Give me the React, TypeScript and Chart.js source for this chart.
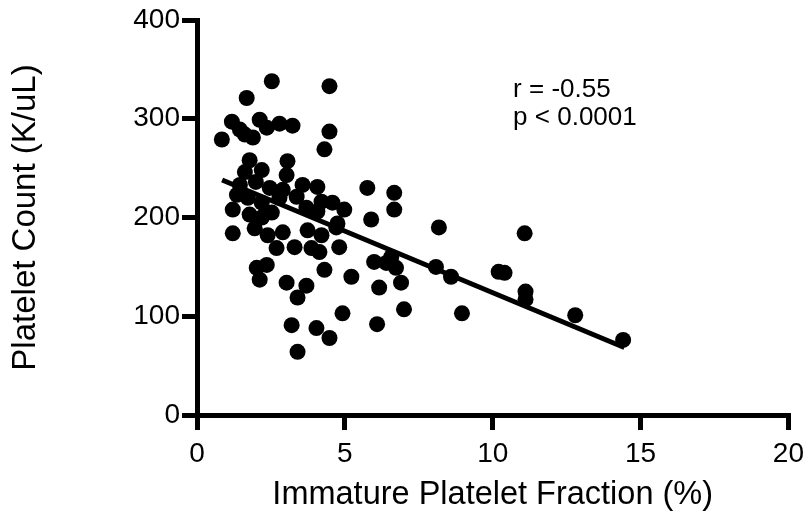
import React, { useEffect, useRef } from "react";
import { Chart, registerables } from "chart.js";

Chart.register(...registerables);

// Immature Platelet Fraction (%)
const ipfValues: number[] = [
  0.84, 1.18, 1.45, 1.89, 2.12, 2.36, 2.79, 3.23, 1.68, 2.53, 4.48, 4.48, 4.31,
  1.78, 3.06, 1.62, 2.19, 1.45, 1.99, 2.46, 3.03, 2.9, 1.72, 2.19, 1.35, 1.21,
  1.78, 2.19, 2.53, 2.79, 3.37, 3.57, 4.07, 4.21, 4.58, 4.98, 3.7, 4.07, 4.75,
  4.81, 5.76, 6.67, 6.67, 5.89, 8.18, 11.08, 1.21, 1.95, 2.39, 2.9, 3.74, 4.21,
  4.71, 2.69, 3.3, 3.87, 4.14, 5.99, 6.4, 6.73, 6.57, 2.02, 2.36, 2.12, 4.31,
  5.22, 3.03, 3.7, 3.4, 6.16, 6.9, 8.08, 8.59, 10.2, 10.4, 11.11, 11.11, 4.92,
  7.0, 8.96, 12.79, 14.41, 3.2, 4.04, 4.48, 3.4, 6.09, 1.62,
];

// Platelet Count (K/uL)
const plateletValues: number[] = [
  279, 297, 289, 281, 299, 291, 295, 293, 321, 338, 333, 287, 269,
  258, 257, 246, 248, 233, 236, 230, 243, 228, 220, 215, 223, 208,
  203, 200, 205, 220, 221, 233, 231, 216, 215, 208, 210, 206, 194,
  170, 230, 225, 208, 198, 190, 184, 184, 189, 182, 185, 187, 182,
  190, 169, 170, 169, 165, 155, 154, 149, 160, 149, 152, 137, 147,
  140, 134, 131, 119, 129, 134, 150, 140, 145, 144, 125, 117, 103,
  107, 103, 101, 76, 91, 88, 78, 64, 92, 284,
];

// Linear regression line endpoints
const fitX: number[] = [0.85, 14.45];
const fitY: number[] = [238, 68.4];

const xTicks: number[] = [0, 5, 10, 15, 20];
const yTicks: number[] = [0, 100, 200, 300, 400];

const xTitle = "Immature Platelet Fraction (%)";
const yTitle = "Platelet Count (K/uL)";
const statLines: string[] = ["r = -0.55", "p < 0.0001"];
const statAnchorX = 10.69;
const statAnchorY = 322;

const FONT = '"Liberation Sans", Arial, Helvetica, sans-serif';

const statPlugin = {
  id: "statText",
  afterDatasetsDraw(chart: any) {
    const { ctx, scales } = chart;
    const px = scales.x.getPixelForValue(statAnchorX);
    const py = scales.y.getPixelForValue(statAnchorY);
    ctx.save();
    ctx.font = `26px ${FONT}`;
    ctx.fillStyle = "#000";
    ctx.textAlign = "left";
    ctx.textBaseline = "alphabetic";
    statLines.forEach((t, i) => ctx.fillText(t, px, py + i * 28));
    ctx.restore();
  },
};

export default function App() {
  const canvasRef = useRef<HTMLCanvasElement | null>(null);

  useEffect(() => {
    if (!canvasRef.current) return;
    const points = ipfValues.map((x, i) => ({ x, y: plateletValues[i] }));
    const fit = fitX.map((x, i) => ({ x, y: fitY[i] }));

    const chart = new Chart(canvasRef.current, {
      type: "scatter",
      data: {
        datasets: [
          {
            type: "line",
            data: fit,
            borderColor: "#000",
            backgroundColor: "#000",
            borderWidth: 5,
            pointRadius: 0,
            showLine: true,
            fill: false,
            order: 0,
          } as any,
          {
            data: points,
            backgroundColor: "#000",
            borderColor: "#000",
            borderWidth: 0,
            pointRadius: 8,
            pointHoverRadius: 8,
            order: 1,
          },
        ],
      },
      options: {
        responsive: false,
        animation: false,
        events: [],
        layout: { padding: { top: 20, right: 22, left: 0, bottom: 0 } },
        plugins: {
          legend: { display: false },
          tooltip: { enabled: false },
          title: { display: false },
        },
        scales: {
          x: {
            type: "linear",
            min: 0,
            max: 20,
            afterFit: (s: any) => {
              s.height = 106;
            },
            afterBuildTicks: (s: any) => {
              s.ticks = xTicks.map((v) => ({ value: v }));
            },
            ticks: {
              color: "#000",
              font: { size: 28, family: FONT },
              padding: 7,
              maxRotation: 0,
            },
            grid: {
              drawOnChartArea: false,
              drawTicks: true,
              tickLength: 15,
              lineWidth: 5,
              color: "#000",
            },
            border: { display: true, width: 5, color: "#000" },
            title: {
              display: true,
              text: xTitle,
              color: "#000",
              font: { size: 32.5, family: FONT },
              padding: { top: 0, bottom: 6 },
            },
          },
          y: {
            type: "linear",
            min: 0,
            max: 400,
            afterFit: (s: any) => {
              s.width = 197;
            },
            afterBuildTicks: (s: any) => {
              s.ticks = yTicks.map((v) => ({ value: v }));
            },
            ticks: {
              color: "#000",
              font: { size: 28, family: FONT },
              padding: 2,
            },
            grid: {
              drawOnChartArea: false,
              drawTicks: true,
              tickLength: 15,
              lineWidth: 5,
              color: "#000",
            },
            border: { display: true, width: 5, color: "#000" },
            title: {
              display: true,
              text: yTitle,
              color: "#000",
              font: { size: 33, family: FONT },
              padding: { top: 6, bottom: 0 },
            },
          },
        },
      },
      plugins: [statPlugin],
    });

    return () => chart.destroy();
  }, []);

  return (
    <div style={{ position: "absolute", left: 0, top: 0, width: 811, height: 521, background: "#fff" }}>
      <canvas ref={canvasRef} width={811} height={521} style={{ display: "block" }} />
    </div>
  );
}
